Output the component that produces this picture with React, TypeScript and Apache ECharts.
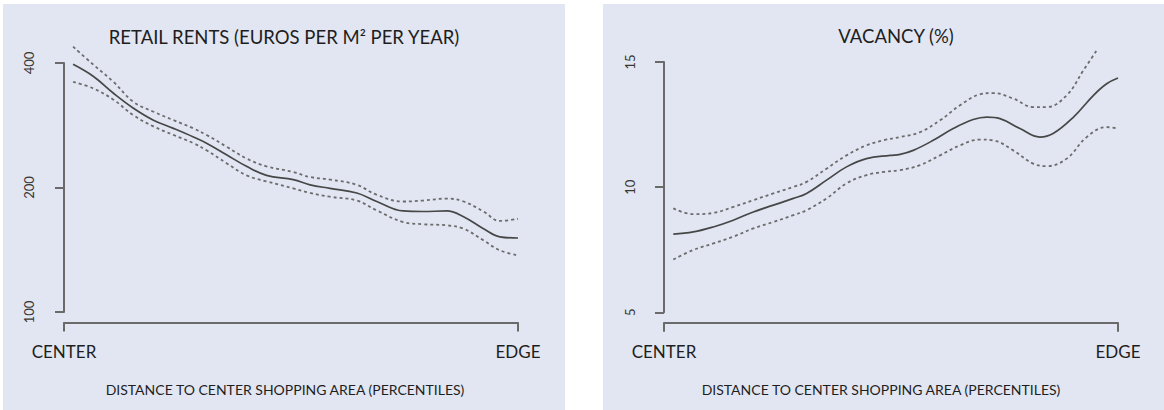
import React, { useEffect, useRef } from 'react';
import * as echarts from 'echarts';

// ---- Data ----
const panelTitles = ['RETAIL RENTS (EUROS PER M² PER YEAR)', 'VACANCY (%)'];
const xAxisTitle = 'DISTANCE TO CENTER SHOPPING AREA (PERCENTILES)';
const xTickLabels = ['CENTER', 'EDGE'];

// Retail rents (log scale), percentiles
const rentX = [2.0, 6.5, 10.9, 15.3, 19.7, 24.1, 28.5, 31.4, 35.8, 40.2, 44.6, 50.5, 54.2, 58.6, 64.5, 68.9, 74.7, 79.1, 84.3, 88.0, 92.4, 96.0, 100];
const rentMid = [397, 371, 338, 311, 291, 278, 265, 256, 240, 225, 214, 209, 203, 199, 194, 185, 175.5, 175, 175.5, 170, 159, 152, 151];
const rentUpper = [438, 396, 360, 322, 305, 291, 278, 268, 251, 235, 225, 218, 212, 209, 203, 192, 185, 186, 188, 185, 175, 166, 168];
const rentLower = [360, 347, 326, 299, 281, 268, 256, 246, 229, 214, 207, 199, 194, 190, 186, 176, 165, 163, 162, 159, 149, 141, 137];
const rentTicks = [100, 200, 400];

// Vacancy (%)
const vacMidX = [2.05, 6.45, 10.86, 15.26, 19.67, 24.1, 28.5, 31.4, 35.8, 40.2, 44.6, 49.8, 52.0, 54.9, 59.3, 63.7, 68.1, 71.1, 74.0, 78.4, 82.8, 85.7, 90.2, 94.6, 97.5, 100];
const vacMid = [8.12, 8.21, 8.41, 8.68, 9.01, 9.28, 9.55, 9.75, 10.28, 10.81, 11.14, 11.27, 11.31, 11.47, 11.87, 12.34, 12.70, 12.80, 12.74, 12.34, 12.00, 12.14, 12.80, 13.67, 14.13, 14.36];
const vacUpperX = [2.05, 6.45, 10.86, 15.26, 19.67, 24.1, 28.5, 31.4, 35.8, 40.2, 44.6, 48.5, 52.0, 56.4, 60.8, 65.2, 69.6, 72.5, 76.9, 81.3, 84.3, 88.7, 92.4, 95.3];
const vacUpper = [9.15, 8.92, 8.97, 9.21, 9.48, 9.75, 10.01, 10.21, 10.74, 11.27, 11.67, 11.88, 12.00, 12.20, 12.67, 13.27, 13.71, 13.76, 13.54, 13.20, 13.20, 13.67, 14.67, 15.46];
const vacLowerX = [2.05, 6.45, 10.86, 15.26, 19.67, 24.1, 28.5, 31.4, 35.8, 40.2, 44.6, 48.5, 52.0, 56.4, 60.8, 65.2, 69.6, 72.5, 76.9, 81.3, 84.3, 88.7, 93.1, 97.5, 100];
const vacLower = [7.11, 7.49, 7.75, 8.02, 8.35, 8.61, 8.88, 9.08, 9.55, 10.15, 10.48, 10.61, 10.68, 10.88, 11.27, 11.67, 11.90, 11.87, 11.47, 10.94, 10.84, 11.14, 12.00, 12.40, 12.34];
const vacTicks = [5, 10, 15];

const BG = '#e2e6f2';
const AXIS = '#6a6a6a';
const TEXT = '#1e1e1e';
const FONT = 'Lato';

export default function App() {
  const ref = useRef<HTMLDivElement>(null);
  useEffect(() => {
    const chart = echarts.init(ref.current!, null, { renderer: 'svg' });
    const pairs = (xs: number[], ys: number[], f: (v: number) => number = (v) => v) =>
      xs.map((x, i) => [x, f(ys[i])]);
    const solid = { color: '#474747', width: 1.7 };
    const dotted = { color: '#6c6c6c', width: 1.8, type: [3, 3] };
    const mkSeries = (name: string, data: number[][], idx: number, ls: any) => ({
      name,
      type: 'line',
      xAxisIndex: idx,
      yAxisIndex: idx,
      data,
      smooth: 0.4,
      clip: false,
      showSymbol: false,
      symbol: 'none',
      lineStyle: ls,
      silent: true,
    });
    const axisCommon = {
      axisLine: { show: true, lineStyle: { color: AXIS, width: 2 } },
      axisTick: { show: true, length: 9, inside: false, lineStyle: { color: AXIS, width: 2 } },
      splitLine: { show: false },
    };
    const option: any = {
      animation: false,
      graphic: [
        { type: 'rect', z: -10, shape: { x: 3, y: 4, width: 562, height: 406 }, style: { fill: BG } },
        { type: 'rect', z: -10, shape: { x: 603, y: 4, width: 561, height: 406 }, style: { fill: BG } },
        { type: 'text', x: 284, y: 37, style: { text: panelTitles[0], fontFamily: FONT, fontSize: 18.5, fill: TEXT, align: 'center', verticalAlign: 'middle' } },
        { type: 'text', x: 896, y: 36, style: { text: panelTitles[1], fontFamily: FONT, fontSize: 18.5, fill: TEXT, align: 'center', verticalAlign: 'middle' } },
        { type: 'text', x: 285, y: 389, style: { text: xAxisTitle, fontFamily: FONT, fontSize: 14, fill: TEXT, align: 'center', verticalAlign: 'middle' } },
        { type: 'text', x: 881, y: 389, style: { text: xAxisTitle, fontFamily: FONT, fontSize: 14, fill: TEXT, align: 'center', verticalAlign: 'middle' } },
      ],
      grid: [
        { left: 64, top: 63, width: 454, height: 249 },
        { left: 664, top: 62, width: 454, height: 250.3 },
      ],
      xAxis: [0, 1].map((i) => ({
        type: 'value',
        gridIndex: i,
        min: 0,
        max: 100,
        interval: 100,
        offset: 10.5,
        ...axisCommon,
        axisLabel: {
          formatter: (v: number) => (v === 0 ? xTickLabels[0] : xTickLabels[1]),
          margin: 20,
          fontSize: 17,
          fontFamily: FONT,
          color: TEXT,
        },
      })),
      yAxis: [
        {
          type: 'log',
          logBase: 2,
          gridIndex: 0,
          min: rentTicks[0] / 100,
          max: rentTicks[2] / 100,
          offset: 9,
          ...axisCommon,
          axisLabel: {
            rotate: 90,
            margin: 20,
            fontSize: 13,
            fontFamily: FONT,
            color: '#3b3630',
            formatter: (v: number) => String(Math.round(v * 100)),
          },
        },
        {
          type: 'value',
          gridIndex: 1,
          min: vacTicks[0],
          max: vacTicks[2],
          interval: 5,
          offset: 8,
          ...axisCommon,
          axisLabel: {
            rotate: 90,
            margin: 20,
            fontSize: 13,
            fontFamily: FONT,
            color: '#3b3630',
          },
        },
      ],
      series: [
        mkSeries('rentUpper', pairs(rentX, rentUpper, (v) => v / 100), 0, dotted),
        mkSeries('rentLower', pairs(rentX, rentLower, (v) => v / 100), 0, dotted),
        mkSeries('rentMid', pairs(rentX, rentMid, (v) => v / 100), 0, solid),
        mkSeries('vacUpper', pairs(vacUpperX, vacUpper), 1, dotted),
        mkSeries('vacLower', pairs(vacLowerX, vacLower), 1, dotted),
        mkSeries('vacMid', pairs(vacMidX, vacMid), 1, solid),
      ],
    };
    chart.setOption(option);
    return () => chart.dispose();
  }, []);
  return (
    <div
      ref={ref}
      style={{ position: 'fixed', left: 0, top: 0, width: 1164, height: 410, background: '#ffffff' }}
    />
  );
}
